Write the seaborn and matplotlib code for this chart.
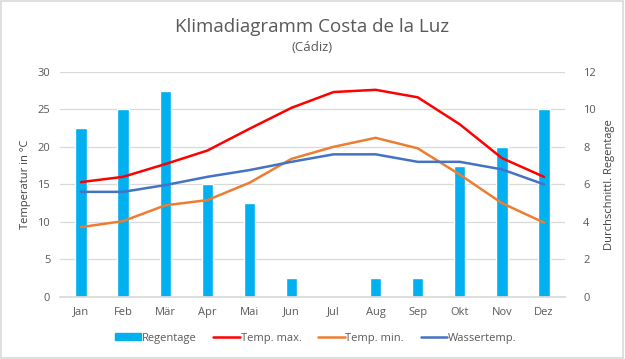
import matplotlib
matplotlib.use('Agg')
import matplotlib.pyplot as plt
import numpy as np
import pandas as pd
import seaborn as sns

monate = ['Jan', 'Feb', 'Mär', 'Apr', 'Mai', 'Jun', 'Jul', 'Aug', 'Sep', 'Okt', 'Nov', 'Dez']
regentage = [9, 10, 11, 6, 5, 1, 0, 1, 1, 7, 8, 10]
temp_max = [15.3, 16.0, 17.7, 19.5, 22.4, 25.2, 27.3, 27.6, 26.6, 23.0, 18.5, 16.0]
temp_min = [9.3, 10.1, 12.2, 12.9, 15.2, 18.4, 20.0, 21.2, 19.8, 16.3, 12.5, 9.9]
wassertemp = [14.0, 14.0, 14.9, 16.0, 16.9, 18.0, 19.0, 19.0, 18.0, 18.0, 17.0, 15.0]

TXT = '#595959'
GRID = '#D9D9D9'


def klimadiagramm():
    sns.set_theme(style='white')
    plt.rcParams['font.family'] = ['Open Sans', 'DejaVu Sans']

    fig = plt.figure(figsize=(6.25, 3.59), dpi=100)
    ax = fig.add_axes([0.096, 0.173, 0.808, 0.627])
    ax2 = ax.twinx()

    pos = np.arange(len(monate))
    df_regen = pd.DataFrame({'pos': pos, 'Regentage': regentage})
    sns.barplot(data=df_regen, x='pos', y='Regentage', ax=ax2, color='#00B0F0',
                saturation=1, width=0.27, native_scale=True)

    df_temp = pd.DataFrame({'pos': pos, 'Temp. max.': temp_max,
                            'Temp. min.': temp_min, 'Wassertemp.': wassertemp})
    farben = {'Temp. max.': '#FF0000', 'Temp. min.': '#ED7D31', 'Wassertemp.': '#4472C4'}
    for name, c in farben.items():
        sns.lineplot(data=df_temp, x='pos', y=name, ax=ax, color=c, linewidth=1.8, label=name)

    ax.set_zorder(ax2.get_zorder() + 1)
    ax.patch.set_visible(False)

    ax.set_xlim(-0.5, 11.5)
    ax.set_ylim(0, 30)
    ax.set_yticks(range(0, 31, 5))
    ax2.set_ylim(0, 12)
    ax2.set_yticks(range(0, 13, 2))
    ax.set_xticks(pos)
    ax.set_xticklabels(monate)
    ax2.set_xlabel('')

    ax2.grid(axis='y', color=GRID, linewidth=0.9)
    ax.grid(False)
    for a in (ax, ax2):
        for s in a.spines.values():
            s.set_visible(False)
        a.tick_params(colors=TXT, labelsize=8, length=0, pad=7)
    ax2.tick_params(axis='y', pad=13)
    ax2.spines['bottom'].set_visible(True)
    ax2.spines['bottom'].set_color(GRID)

    ax.set_xlabel('')
    ax.set_ylabel('Temperatur in °C', color='#404040', fontsize=8, labelpad=5)
    ax2.set_ylabel('Durchschnittl. Regentage', color='#404040', fontsize=8, labelpad=6)

    fig.text(0.5, 0.925, 'Klimadiagramm Costa de la Luz', ha='center', va='center',
             fontsize=13.5, color=TXT)
    fig.text(0.5, 0.868, '(Cádiz)', ha='center', va='center', fontsize=9.5, color=TXT)

    h1, l1 = ax.get_legend_handles_labels()
    ax.get_legend().remove()
    bar_handle = plt.Rectangle((0, 0), 1, 1, color='#00B0F0')
    fig.legend([bar_handle] + h1, ['Regentage'] + l1, loc='center', ncol=4,
               bbox_to_anchor=(0.505, 0.058), frameon=False, fontsize=8,
               labelcolor=TXT, handlelength=2.4, handleheight=0.6,
               handletextpad=0.05, columnspacing=1.5)

    fig.patches.append(plt.Rectangle((0.002, 0.003), 0.995, 0.993, transform=fig.transFigure,
                                     fill=False, edgecolor='#D9D9D9', linewidth=1.2))
    fig.savefig('out.png', dpi=100)


if __name__ == '__main__':
    klimadiagramm()
